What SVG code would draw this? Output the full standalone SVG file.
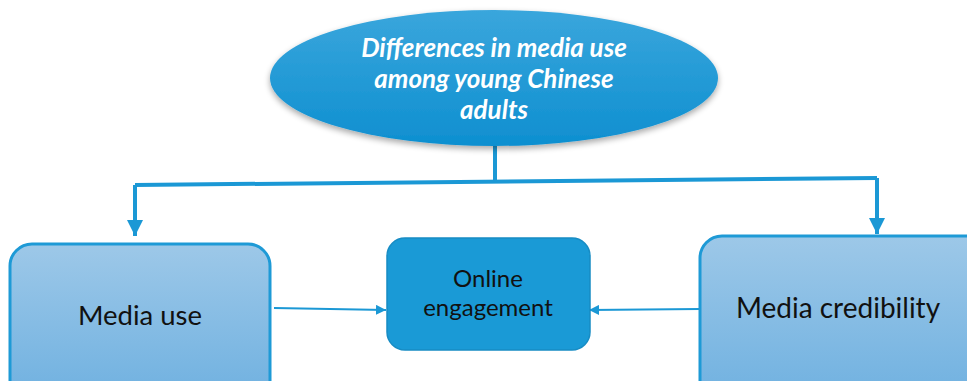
<svg xmlns="http://www.w3.org/2000/svg" width="967" height="381" viewBox="0 0 967 381">
  <defs>
    <linearGradient id="ovalFill" x1="0" y1="0" x2="0" y2="1">
      <stop offset="0" stop-color="#3AA6DC"/>
      <stop offset="1" stop-color="#0E8FD0"/>
    </linearGradient>
    <linearGradient id="boxFill" x1="0" y1="0" x2="0" y2="1">
      <stop offset="0" stop-color="#9DC8E8"/>
      <stop offset="1" stop-color="#6EB0E0"/>
    </linearGradient>
    <filter id="softShadow" x="-10%" y="-10%" width="120%" height="130%">
      <feGaussianBlur in="SourceAlpha" stdDeviation="3"/>
      <feOffset dx="0" dy="3" result="blur"/>
      <feComponentTransfer><feFuncA type="linear" slope="0.35"/></feComponentTransfer>
      <feMerge><feMergeNode/><feMergeNode in="SourceGraphic"/></feMerge>
    </filter>
    <marker id="headBig" viewBox="0 0 10 10" refX="10" refY="5" markerWidth="4" markerHeight="4" orient="auto" markerUnits="strokeWidth">
      <path d="M0,0 L10,5 L0,10 z" fill="#1B98D5"/>
    </marker>
    <marker id="headSmall" viewBox="0 0 10 10" refX="10" refY="5" markerWidth="5" markerHeight="5" orient="auto" markerUnits="strokeWidth">
      <path d="M0,0 L10,5 L0,10 z" fill="#1B98D5"/>
    </marker>
  </defs>
  <style>
    .title { font-family: Lato, "Liberation Sans", sans-serif; font-weight: bold; font-style: italic; font-size: 26px; fill: #FFFFFF; }
    .label { font-family: Lato, "Liberation Sans", sans-serif; fill: #111111; }
    .side { fill: url(#boxFill); stroke: #1E9AD6; stroke-width: 3; }
    .link { fill: none; stroke: #1B98D5; }
  </style>

  <rect width="967" height="381" fill="#FFFFFF"/>

  <g id="connectors">
    <path class="link" stroke-width="4" d="M495,146 L495,182"/>
    <path class="link" stroke-width="4" d="M135,185 L877,178"/>
    <path class="link" stroke-width="4" marker-end="url(#headBig)" d="M135,185 L135,236"/>
    <path class="link" stroke-width="4" marker-end="url(#headBig)" d="M877,178 L877,234"/>
    <path class="link" stroke-width="2" marker-end="url(#headSmall)" d="M274,308 L386,310"/>
    <path class="link" stroke-width="2" marker-end="url(#headSmall)" d="M700,309 L589,310"/>
  </g>

  <g id="topic">
    <ellipse cx="494" cy="78" rx="224" ry="68" fill="url(#ovalFill)" filter="url(#softShadow)"/>
    <text class="title" text-anchor="middle" x="494" y="57">Differences in media use</text>
    <text class="title" text-anchor="middle" x="494" y="88">among young Chinese</text>
    <text class="title" text-anchor="middle" x="494" y="119">adults</text>
  </g>

  <g id="media-use">
    <rect class="side" x="10" y="244" width="260" height="160" rx="22"/>
    <text class="label" font-size="27.5" text-anchor="middle" x="140" y="325">Media use</text>
  </g>

  <g id="online-engagement">
    <rect x="387" y="238" width="203" height="112" rx="18" fill="#1A9AD6" stroke="#178CC4" stroke-width="1.5"/>
    <text class="label" font-size="24" text-anchor="middle" x="488" y="287">Online</text>
    <text class="label" font-size="24" text-anchor="middle" x="488" y="316">engagement</text>
  </g>

  <g id="media-credibility">
    <rect class="side" x="700" y="236" width="290" height="170" rx="22"/>
    <text class="label" font-size="28" text-anchor="middle" x="838" y="318">Media credibility</text>
  </g>
</svg>
